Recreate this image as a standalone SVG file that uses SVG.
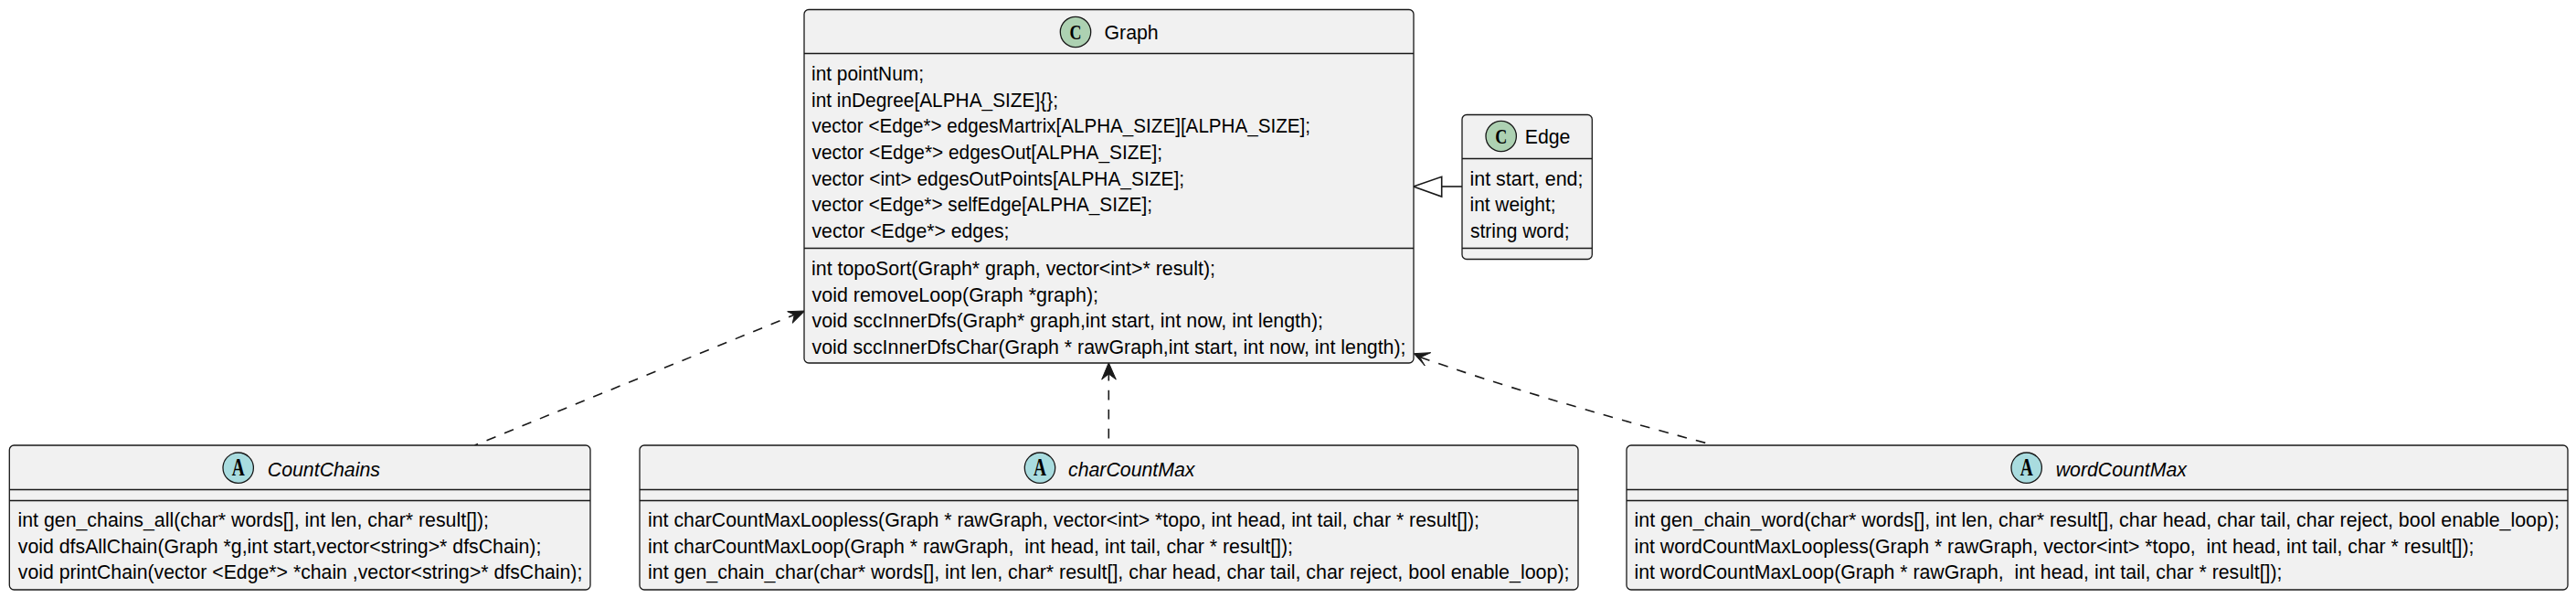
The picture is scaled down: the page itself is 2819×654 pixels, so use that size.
<svg xmlns="http://www.w3.org/2000/svg" width="2819" height="654" viewBox="0 0 2819 654">
<style>
.b{fill:#F1F1F1;stroke:#181818;stroke-width:1.3}
.d{stroke:#181818;stroke-width:1.3;fill:none}
.t{font-family:"Liberation Sans",Arial,sans-serif;font-size:21.3px;fill:#000;white-space:pre}
.i{font-style:italic}
.c{stroke:#181818;stroke-width:1.3}
.g{font-family:"Liberation Serif",serif;font-weight:bold;font-size:24px;fill:#000}
.a{font-size:27px}
.l{stroke:#181818;stroke-width:1.6;fill:none;stroke-dasharray:10.700,10.300}
.h{fill:#181818;stroke:#181818;stroke-width:1}
.o{fill:none;stroke:#181818;stroke-width:1.6}
</style>
<rect width="2819" height="654" fill="#FFFFFF"/>
<g id="connectors">
<path class="l" stroke-dashoffset="4" d="M869.300,344.300L519.500,487"/>
<path class="h" d="M880.700,340L861.700,340.700L869.300,344.300L867.300,353.300Z"/>
<path class="l" d="M1213.300,405.700L1213.300,487"/>
<path class="h" d="M1213.300,396.700L1205.700,415L1213.300,409L1221.300,415Z"/>
<path class="l" d="M1554.600,390.700Q1675,433.400 1876,487"/>
<path class="h" d="M1547.300,386.700L1565.700,385.700L1554,391L1559.300,400Z"/>
<path class="o" d="M1600,204L1577.700,204"/>
<path class="o" d="M1577.700,193.300L1577.700,215L1546.700,204Z"/>
</g>
<g id="Graph">
<rect class="b" x="880" y="10.500" width="667" height="386.500" rx="5"/>
<ellipse class="c" cx="1177" cy="35" rx="16.700" ry="16.700" fill="#ADD1B2"/>
<text class="g" x="1170.500" y="43" textLength="13" lengthAdjust="spacingAndGlyphs">C</text>
<text class="t" x="1208.500" y="43">Graph</text>
<path class="d" d="M880,58.500H1547M880,271.500H1547"/>
<text class="t" x="888" y="88" textLength="123" lengthAdjust="spacingAndGlyphs">int pointNum;</text>
<text class="t" x="888" y="116.700" textLength="270" lengthAdjust="spacingAndGlyphs">int inDegree[ALPHA_SIZE]{};</text>
<text class="t" x="888.500" y="145.300" textLength="545.500" lengthAdjust="spacingAndGlyphs">vector &lt;Edge*&gt; edgesMartrix[ALPHA_SIZE][ALPHA_SIZE];</text>
<text class="t" x="888.500" y="174" textLength="383.500" lengthAdjust="spacingAndGlyphs">vector &lt;Edge*&gt; edgesOut[ALPHA_SIZE];</text>
<text class="t" x="888.500" y="202.700" textLength="407.500" lengthAdjust="spacingAndGlyphs">vector &lt;int&gt; edgesOutPoints[ALPHA_SIZE];</text>
<text class="t" x="888.500" y="231.300" textLength="372.500" lengthAdjust="spacingAndGlyphs">vector &lt;Edge*&gt; selfEdge[ALPHA_SIZE];</text>
<text class="t" x="888.500" y="260" textLength="216" lengthAdjust="spacingAndGlyphs">vector &lt;Edge*&gt; edges;</text>
<text class="t" x="888" y="301" textLength="442" lengthAdjust="spacingAndGlyphs">int topoSort(Graph* graph, vector&lt;int&gt;* result);</text>
<text class="t" x="888.500" y="329.700" textLength="313.500" lengthAdjust="spacingAndGlyphs">void removeLoop(Graph *graph);</text>
<text class="t" x="888.500" y="358.300" textLength="559.500" lengthAdjust="spacingAndGlyphs">void sccInnerDfs(Graph* graph,int start, int now, int length);</text>
<text class="t" x="888.500" y="387" textLength="650" lengthAdjust="spacingAndGlyphs">void sccInnerDfsChar(Graph * rawGraph,int start, int now, int length);</text>
</g>
<g id="Edge">
<rect class="b" x="1600" y="125.500" width="142.300" height="158" rx="5"/>
<ellipse class="c" cx="1642.700" cy="149" rx="16.700" ry="16.700" fill="#ADD1B2"/>
<text class="g" x="1636.200" y="157" textLength="13" lengthAdjust="spacingAndGlyphs">C</text>
<text class="t" x="1668.700" y="157">Edge</text>
<path class="d" d="M1600,173.500H1742.300M1600,271.500H1742.300"/>
<text class="t" x="1608.500" y="202.700" textLength="124" lengthAdjust="spacingAndGlyphs">int start, end;</text>
<text class="t" x="1608.500" y="231.300" textLength="94" lengthAdjust="spacingAndGlyphs">int weight;</text>
<text class="t" x="1609" y="260" textLength="108.500" lengthAdjust="spacingAndGlyphs">string word;</text>
</g>
<g id="CountChains">
<rect class="b" x="10.300" y="487" width="635.700" height="158" rx="5"/>
<ellipse class="c" cx="260.700" cy="511.700" rx="16.700" ry="16.700" fill="#A9DCDF"/>
<text class="g a" x="253.700" y="520" textLength="14" lengthAdjust="spacingAndGlyphs">A</text>
<text class="t i" x="292.800" y="520.500">CountChains</text>
<path class="d" d="M10.300,535.500H646M10.300,547.500H646"/>
<text class="t" x="19.500" y="576" textLength="515.500" lengthAdjust="spacingAndGlyphs">int gen_chains_all(char* words[], int len, char* result[]);</text>
<text class="t" x="19.800" y="604.700" textLength="572.500" lengthAdjust="spacingAndGlyphs">void dfsAllChain(Graph *g,int start,vector&lt;string&gt;* dfsChain);</text>
<text class="t" x="19.800" y="633.300" textLength="617.500" lengthAdjust="spacingAndGlyphs">void printChain(vector &lt;Edge*&gt; *chain ,vector&lt;string&gt;* dfsChain);</text>
</g>
<g id="charCountMax">
<rect class="b" x="700" y="487" width="1027" height="158" rx="5"/>
<ellipse class="c" cx="1138" cy="511.700" rx="16.700" ry="16.700" fill="#A9DCDF"/>
<text class="g a" x="1131" y="520" textLength="14" lengthAdjust="spacingAndGlyphs">A</text>
<text class="t i" x="1169" y="520.500">charCountMax</text>
<path class="d" d="M700,535.500H1727M700,547.500H1727"/>
<text class="t" x="709" y="576" textLength="910" lengthAdjust="spacingAndGlyphs">int charCountMaxLoopless(Graph * rawGraph, vector&lt;int&gt; *topo, int head, int tail, char * result[]);</text>
<text class="t" x="709" y="604.700" textLength="706" lengthAdjust="spacingAndGlyphs">int charCountMaxLoop(Graph * rawGraph,  int head, int tail, char * result[]);</text>
<text class="t" x="709" y="633.300" textLength="1008.500" lengthAdjust="spacingAndGlyphs">int gen_chain_char(char* words[], int len, char* result[], char head, char tail, char reject, bool enable_loop);</text>
</g>
<g id="wordCountMax">
<rect class="b" x="1780" y="487" width="1030" height="158" rx="5"/>
<ellipse class="c" cx="2217.700" cy="511.700" rx="16.700" ry="16.700" fill="#A9DCDF"/>
<text class="g a" x="2210.700" y="520" textLength="14" lengthAdjust="spacingAndGlyphs">A</text>
<text class="t i" x="2249.700" y="520.500">wordCountMax</text>
<path class="d" d="M1780,535.500H2810M1780,547.500H2810"/>
<text class="t" x="1788.500" y="576" textLength="1012.500" lengthAdjust="spacingAndGlyphs">int gen_chain_word(char* words[], int len, char* result[], char head, char tail, char reject, bool enable_loop);</text>
<text class="t" x="1788.500" y="604.700" textLength="919" lengthAdjust="spacingAndGlyphs">int wordCountMaxLoopless(Graph * rawGraph, vector&lt;int&gt; *topo,  int head, int tail, char * result[]);</text>
<text class="t" x="1788.500" y="633.300" textLength="709" lengthAdjust="spacingAndGlyphs">int wordCountMaxLoop(Graph * rawGraph,  int head, int tail, char * result[]);</text>
</g>
</svg>
